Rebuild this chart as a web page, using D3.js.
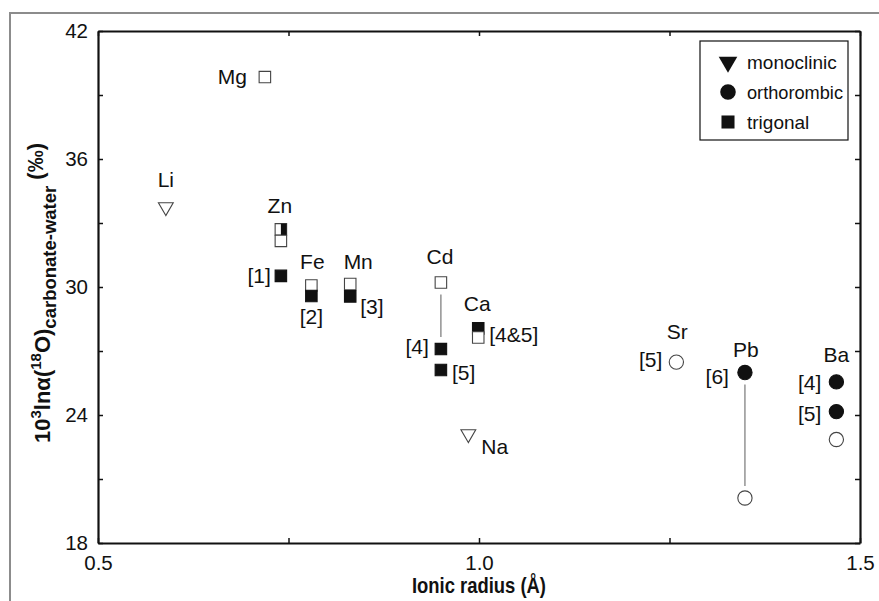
<!DOCTYPE html>
<html>
<head>
<meta charset="utf-8">
<script src="https://cdn.jsdelivr.net/npm/d3@7"></script>
<style>
  html, body { margin: 0; padding: 0; background: #fff; }
  svg { display: block; font-family: Arial, "Liberation Sans", sans-serif; }
</style>
</head>
<body>
<svg id="chart" width="879" height="601"></svg>
<script>
// ---- data --------------------------------------------------------------
// Ionic radius (Å) and 10^3 ln α(18O) carbonate–water (‰) for each mark
const pointElement = ["Li", "Na", "Mg", "Zn", "Zn", "Zn", "Fe", "Fe", "Mn", "Mn",
                      "Cd", "Cd", "Cd", "Ca", "Ca", "Sr", "Pb", "Pb", "Ba", "Ba", "Ba"];
const pointRadius  = [0.589, 0.986, 0.719, 0.740, 0.740, 0.740, 0.780, 0.780, 0.831, 0.831,
                      0.950, 0.950, 0.950, 0.999, 0.999, 1.259, 1.349, 1.349, 1.469, 1.469, 1.469];
const pointValue   = [33.75, 23.11, 39.84, 32.70, 32.16, 30.52, 30.07, 29.58, 30.14, 29.56,
                      30.21, 27.09, 26.11, 28.06, 27.63, 26.48, 25.99, 20.11, 25.55, 24.16, 22.85];
const pointSystem  = ["monoclinic", "monoclinic", "trigonal", "trigonal", "trigonal", "trigonal",
                      "trigonal", "trigonal", "trigonal", "trigonal", "trigonal", "trigonal",
                      "trigonal", "trigonal", "trigonal", "orthorombic", "orthorombic",
                      "orthorombic", "orthorombic", "orthorombic", "orthorombic"];
const pointFill    = ["open", "open", "open", "halfRight", "open", "filled", "open", "filled",
                      "open", "filled", "open", "filled", "filled", "filled", "open", "open",
                      "filled", "open", "filled", "filled", "open"];

// element names and reference numbers, each tied to a mark index
const labelText  = ["Li", "Na", "Mg", "Zn", "Fe", "Mn", "Cd", "Ca", "Sr", "Pb", "Ba",
                    "[1]", "[2]", "[3]", "[4]", "[5]", "[4&5]", "[5]", "[6]", "[4]", "[5]"];
const labelPoint = [0, 1, 2, 3, 6, 8, 10, 13, 15, 16, 18,
                    5, 7, 9, 11, 12, 13, 15, 16, 18, 19];

// pairs of marks joined by a thin line
const connectors = [[10, 11], [16, 17]];

const legendItems = ["monoclinic", "orthorombic", "trigonal"];

const xTicks = [0.5, 0.75, 1.0, 1.25, 1.5];
const yTicks = [18, 21, 24, 27, 30, 33, 36, 39, 42];
const yTickLabels = [18, 24, 30, 36, 42];
const xTickLabels = [0.5, 1.0, 1.5];

// ---- layout ------------------------------------------------------------
// label offsets (px) from their mark, with text-anchor
const labelLayout = [
  [0, -27, "middle"], [13, 13, "start"], [-18, 0, "end"], [-1, -24, "middle"],
  [1, -24, "middle"], [8, -22, "middle"], [-1, -26, "middle"], [-1, -25, "middle"],
  [1, -30, "middle"], [1, -23, "middle"], [0, -27, "middle"],
  [-10, 0, "end"], [0, 21, "middle"], [10, 10, "start"], [-12, -2, "end"],
  [11, 3, "start"], [11, 6, "start"], [-14, -2, "end"], [-16, 4, "end"],
  [-15, 1, "end"], [-15, 2, "end"]
];

const svg = d3.select("#chart");
const plot = { left: 98, right: 860, top: 31, bottom: 543 };

const x = d3.scaleLinear().domain([0.5, 1.5]).range([plot.left, plot.right]);
const y = d3.scaleLinear().domain([18, 42]).range([plot.bottom, plot.top]);

// outer frame (top and left edges)
svg.append("path")
  .attr("d", "M10,601 V13 H879")
  .attr("fill", "none")
  .attr("stroke", "#8c8c8c")
  .attr("stroke-width", 2);

// ---- axes --------------------------------------------------------------
const fmtX = d => xTickLabels.some(v => Math.abs(v - d) < 1e-9) ? d3.format(".1f")(d) : "";
const fmtY = d => yTickLabels.includes(d) ? d : "";

function styleAxis(g) {
  g.select(".domain").attr("stroke", "#111").attr("stroke-width", 2.2);
  g.selectAll(".tick line").attr("stroke", "#111").attr("stroke-width", 1.5);
  g.selectAll(".tick text").attr("fill", "#111").attr("font-size", 20.5)
    .attr("font-family", "Arial, 'Liberation Sans', sans-serif");
}

svg.append("g").attr("transform", `translate(0,${plot.bottom})`)
  .call(d3.axisBottom(x).tickValues(xTicks).tickFormat(fmtX).tickSize(-5).tickSizeOuter(0).tickPadding(12))
  .call(styleAxis);
svg.append("g").attr("transform", `translate(0,${plot.top})`)
  .call(d3.axisTop(x).tickValues(xTicks).tickFormat("").tickSize(-5).tickSizeOuter(0))
  .call(styleAxis);
svg.append("g").attr("transform", `translate(${plot.left},0)`)
  .call(d3.axisLeft(y).tickValues(yTicks).tickFormat(fmtY).tickSize(-5).tickSizeOuter(0).tickPadding(10))
  .call(styleAxis);
svg.append("g").attr("transform", `translate(${plot.right},0)`)
  .call(d3.axisRight(y).tickValues(yTicks).tickFormat("").tickSize(-5).tickSizeOuter(0))
  .call(styleAxis);

// axis titles
svg.append("text")
  .attr("x", (plot.left + plot.right) / 2)
  .attr("y", 593)
  .attr("text-anchor", "middle")
  .attr("font-size", 21.5)
  .attr("font-weight", "bold")
  .attr("fill", "#111")
  .attr("textLength", 134)
  .attr("lengthAdjust", "spacingAndGlyphs")
  .text("Ionic radius (Å)");

const yTitle = svg.append("text")
  .attr("transform", "translate(50,293) rotate(-90)")
  .attr("text-anchor", "middle")
  .attr("font-size", 22)
  .attr("font-weight", "bold")
  .attr("fill", "#111");
yTitle.append("tspan").text("10");
yTitle.append("tspan").attr("font-size", 15).attr("dy", -9).text("3");
yTitle.append("tspan").attr("dy", 9).text("lnα(");
yTitle.append("tspan").attr("font-size", 15).attr("dy", -9).text("18");
yTitle.append("tspan").attr("dy", 9).text("O)");
yTitle.append("tspan").attr("font-size", 18.5).attr("dy", 6).text("carbonate-water");
yTitle.append("tspan").attr("font-size", 22).attr("dy", -13).text(" (‰)");

// ---- marks -------------------------------------------------------------
const points = pointValue.map((v, i) => ({
  el: pointElement[i], r: pointRadius[i], v, sys: pointSystem[i], fill: pointFill[i]
}));

// connecting lines, kept clear of the marks
const gap = 12;
svg.append("g").selectAll("line").data(connectors).join("line")
  .attr("x1", d => x(points[d[0]].r))
  .attr("x2", d => x(points[d[1]].r))
  .attr("y1", d => Math.min(y(points[d[0]].v), y(points[d[1]].v)) + gap)
  .attr("y2", d => Math.max(y(points[d[0]].v), y(points[d[1]].v)) - gap)
  .attr("stroke", "#777")
  .attr("stroke-width", 1.2);

const shapeOf = {
  monoclinic: d3.symbol().type(d3.symbolTriangle).size(95),
  orthorombic: d3.symbol().type(d3.symbolCircle).size(160),
  trigonal: d3.symbol().type(d3.symbolSquare).size(132)
};
const squareSide = Math.sqrt(132);

const markG = svg.append("g");
points.forEach(p => {
  const cx = x(p.r), cy = y(p.v);
  const rot = p.sys === "monoclinic" ? " rotate(180)" : "";
  markG.append("path")
    .attr("d", shapeOf[p.sys]())
    .attr("transform", `translate(${cx},${cy})${rot}`)
    .attr("fill", p.fill === "filled" ? "#111" : "#fff")
    .attr("stroke", p.fill === "filled" ? "#111" : "#444")
    .attr("stroke-width", 1.1);
  if (p.fill === "halfRight") {
    markG.append("rect")
      .attr("x", cx)
      .attr("y", cy - squareSide / 2)
      .attr("width", squareSide / 2)
      .attr("height", squareSide)
      .attr("fill", "#111");
  }
});

// ---- labels ------------------------------------------------------------
svg.append("g").selectAll("text").data(labelText).join("text")
  .attr("x", (t, i) => x(points[labelPoint[i]].r) + labelLayout[i][0])
  .attr("y", (t, i) => y(points[labelPoint[i]].v) + labelLayout[i][1])
  .attr("dy", "0.35em")
  .attr("text-anchor", (t, i) => labelLayout[i][2])
  .attr("font-size", 21)
  .attr("fill", "#111")
  .text(t => t);

// ---- legend ------------------------------------------------------------
const legend = svg.append("g").attr("transform", "translate(700,41)");
legend.append("rect")
  .attr("width", 148).attr("height", 99)
  .attr("fill", "#fff").attr("stroke", "#111").attr("stroke-width", 1.2);
legendItems.forEach((sys, i) => {
  const ly = 21 + i * 30;
  legend.append("path")
    .attr("d", d3.symbol().type(
      sys === "monoclinic" ? d3.symbolTriangle : sys === "orthorombic" ? d3.symbolCircle : d3.symbolSquare
    ).size(sys === "monoclinic" ? 150 : sys === "orthorombic" ? 190 : 170)())
    .attr("transform", `translate(28,${ly})${sys === "monoclinic" ? " rotate(180)" : ""}`)
    .attr("fill", "#111");
  legend.append("text")
    .attr("x", 47).attr("y", ly).attr("dy", "0.35em")
    .attr("font-size", 19).attr("fill", "#111")
    .attr("textLength", sys === "orthorombic" ? 96 : null)
    .attr("lengthAdjust", "spacingAndGlyphs")
    .text(sys);
});
</script>
</body>
</html>
